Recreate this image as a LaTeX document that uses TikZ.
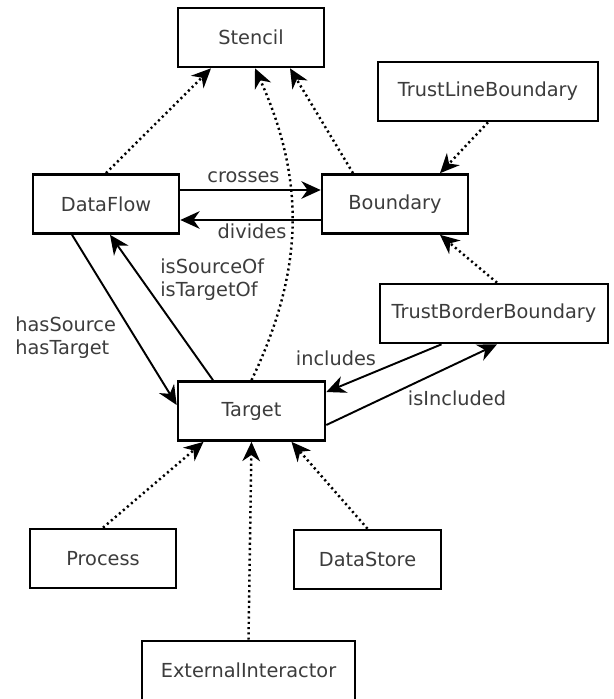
\documentclass[tikz,border=0pt]{standalone}
\usepackage{fontspec}
\setmainfont{DejaVu Sans}
\usepackage{tikz}
\usetikzlibrary{arrows.meta}

\definecolor{textgray}{HTML}{3C3C3C}

\begin{document}
\begin{tikzpicture}
	[%
	x=0.02cm, y=-0.02cm,%
	cls/.style     ={rectangle,	draw=black,	fill=white,	line width=1.5pt,	inner sep=0pt,	minimum height=1.18cm,	text=textgray,	font=\fontsize{11}{13}\selectfont},%
	lbl/.style     ={inner sep=0pt,	text=textgray,	font=\fontsize{11}{13}\selectfont},%
	rel/.style     ={line width=1.1pt,	-{Stealth[length=11pt,width=10pt,inset=3.5pt]}},%
	inherits/.style={line width=1.4pt,	dash pattern=on 1.2pt off 1.8pt,	-{Stealth[length=11pt,width=10pt,inset=3.5pt]}},%
	]

	\useasboundingbox (0,0) rectangle (613,699);

	% nodes
	\node (Stencil)             at (251,37.5)  [cls, minimum width=2.92cm] {Stencil};
	\node (TrustLineBoundary)   at (488,91.5)  [cls, minimum width=4.40cm] {TrustLineBoundary};
	\node (DataFlow)            at (106,204)   [cls, minimum width=2.92cm] {DataFlow};
	\node (Boundary)            at (395,204)   [cls, minimum width=2.92cm] {Boundary};
	\node (TrustBorderBoundary) at (494,313.5) [cls, minimum width=4.56cm] {TrustBorderBoundary};
	\node (Target)              at (251.5,411) [cls, minimum width=2.94cm] {Target};
	\node (Process)             at (103,558.5) [cls, minimum width=2.92cm] {Process};
	\node (DataStore)           at (367.5,559.5) [cls, minimum width=2.94cm] {DataStore};
	\node (ExternalInteractor)  at (248.5,670.5) [cls, minimum width=4.26cm] {ExternalInteractor};

	% labels
	\node (lblCrosses)    at (243.5,183) [lbl, anchor=base] {crosses};
	\node (lblDivides)    at (252,238)   [lbl, anchor=base] {divides};
	\node (lblIsSource)   at (160,280)   [lbl, anchor=west, align=left] {isSourceOf\\isTargetOf};
	\node (lblHasSource)  at (15,338)    [lbl, anchor=west, align=left] {hasSource\\hasTarget};
	\node (lblIncludes)   at (336,365)   [lbl, anchor=base] {includes};
	\node (lblIsIncluded) at (457,405)   [lbl, anchor=base] {isIncluded};

	% associations
	\draw [rel] ([yshift=0.28cm]DataFlow.east) -- ([yshift=0.28cm]Boundary.west);
	\draw [rel] ([yshift=-0.32cm]Boundary.west) -- ([yshift=-0.32cm]DataFlow.east);
	\draw [rel] ([xshift=-0.68cm]DataFlow.south) -- ([yshift=0.12cm]Target.west);
	\draw [rel] ([xshift=-0.77cm]Target.north) -- ([xshift=0.08cm]DataFlow.south);
	\draw [rel] ([xshift=-1.05cm]TrustBorderBoundary.south) -- ([yshift=0.38cm]Target.east);
	\draw [rel] ([yshift=-0.28cm]Target.east) -- ([xshift=0.06cm]TrustBorderBoundary.south);

	% generalisations
	\draw [inherits] (DataFlow.north) -- ([xshift=-0.8cm]Stencil.south);
	\draw [inherits] (Target.north) to [bend right=25] ([xshift=0.08cm]Stencil.south);
	\draw [inherits] ([xshift=-0.84cm]Boundary.north) -- ([xshift=0.78cm]Stencil.south);
	\draw [inherits] (TrustLineBoundary.south) -- ([xshift=0.9cm]Boundary.north);
	\draw [inherits] ([xshift=0.06cm]TrustBorderBoundary.north) -- ([xshift=0.9cm]Boundary.south);
	\foreach \src/\dx in {Process/-0.96, ExternalInteractor/0, DataStore/0.8}%
		\draw [inherits] (\src.north) -- ([xshift=\dx cm]Target.south);

\end{tikzpicture}
\end{document}
